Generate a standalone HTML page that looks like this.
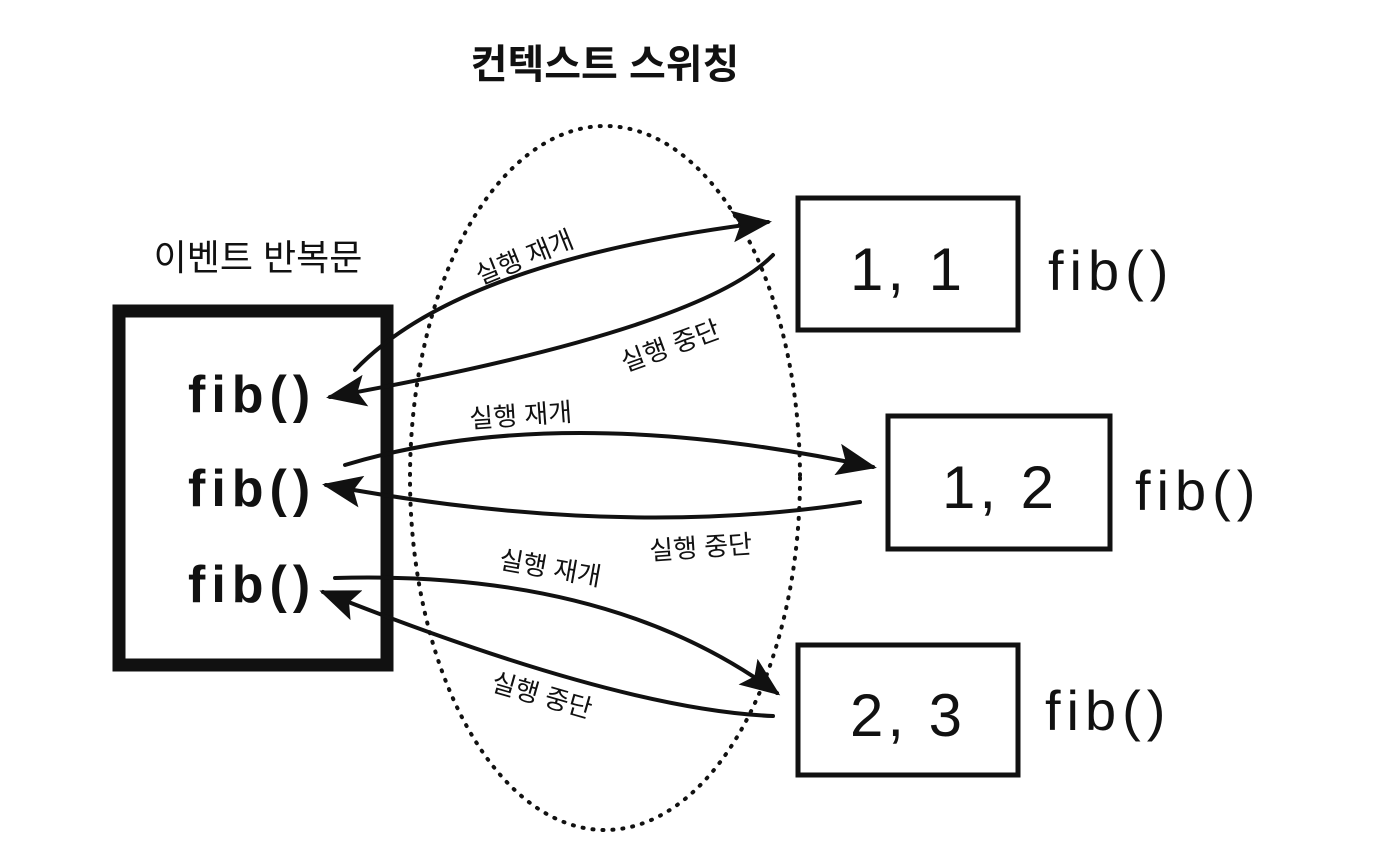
<!DOCTYPE html>
<html><head><meta charset="utf-8"><style>
html,body{margin:0;padding:0;background:#fff;}
svg{display:block}
text{font-family:"Liberation Sans","Noto Sans CJK KR",sans-serif;fill:#111}
</style></head><body>
<svg width="1384" height="864" viewBox="0 0 1384 864" xmlns="http://www.w3.org/2000/svg">
<defs>
<marker id="ah" markerWidth="10" markerHeight="8" refX="9" refY="4" orient="auto" markerUnits="strokeWidth">
<path d="M0,0 L10,4 L0,8 L2,4 Z" fill="#111"/>
</marker>
</defs>
<text x="605" y="78" font-size="40" font-weight="bold" text-anchor="middle">컨텍스트 스위칭</text>
<text x="258" y="270" font-size="36" text-anchor="middle">이벤트 반복문</text>
<ellipse cx="605" cy="478" rx="195" ry="352" fill="none" stroke="#111" stroke-width="4" stroke-dasharray="1 9" stroke-linecap="round"/>
<rect x="119" y="311" width="268" height="354" fill="none" stroke="#111" stroke-width="13"/>
<text x="188" y="412" font-size="52" font-weight="bold" letter-spacing="6">fib()</text>
<text x="188" y="506" font-size="52" font-weight="bold" letter-spacing="6">fib()</text>
<text x="188" y="602" font-size="52" font-weight="bold" letter-spacing="6">fib()</text>
<rect x="798" y="198" width="220" height="132" fill="none" stroke="#111" stroke-width="5"/>
<text x="908" y="290" font-size="60" text-anchor="middle" letter-spacing="4">1, 1</text>
<text x="1048" y="290" font-size="56" letter-spacing="6">fib()</text>
<rect x="888" y="416" width="222" height="133" fill="none" stroke="#111" stroke-width="5"/>
<text x="1000" y="508" font-size="60" text-anchor="middle" letter-spacing="4">1, 2</text>
<text x="1135" y="510" font-size="56" letter-spacing="6">fib()</text>
<rect x="798" y="645" width="220" height="130" fill="none" stroke="#111" stroke-width="5"/>
<text x="908" y="736" font-size="60" text-anchor="middle" letter-spacing="4">2, 3</text>
<text x="1045" y="730" font-size="56" letter-spacing="6">fib()</text>
<g fill="none" stroke="#111" stroke-width="4" stroke-linecap="round">
<path d="M355,370 Q460,260 768,222" marker-end="url(#ah)"/>
<path d="M773,255 Q700,330 330,397" marker-end="url(#ah)"/>
<path d="M345,465 Q560,400 873,467" marker-end="url(#ah)"/>
<path d="M860,502 Q620,540 326,485" marker-end="url(#ah)"/>
<path d="M335,578 Q610,570 777,693" marker-end="url(#ah)"/>
<path d="M773,716 Q620,710 323,592" marker-end="url(#ah)"/>
</g>
<g font-size="26">
<text transform="translate(480,285) rotate(-22)">실행 재개</text>
<text transform="translate(625,372) rotate(-20)">실행 중단</text>
<text transform="translate(470,428) rotate(-4)">실행 재개</text>
<text transform="translate(650,560) rotate(-4)">실행 중단</text>
<text transform="translate(498,568) rotate(10)">실행 재개</text>
<text transform="translate(490,690) rotate(16)">실행 중단</text>
</g>
</svg>
</body></html>
